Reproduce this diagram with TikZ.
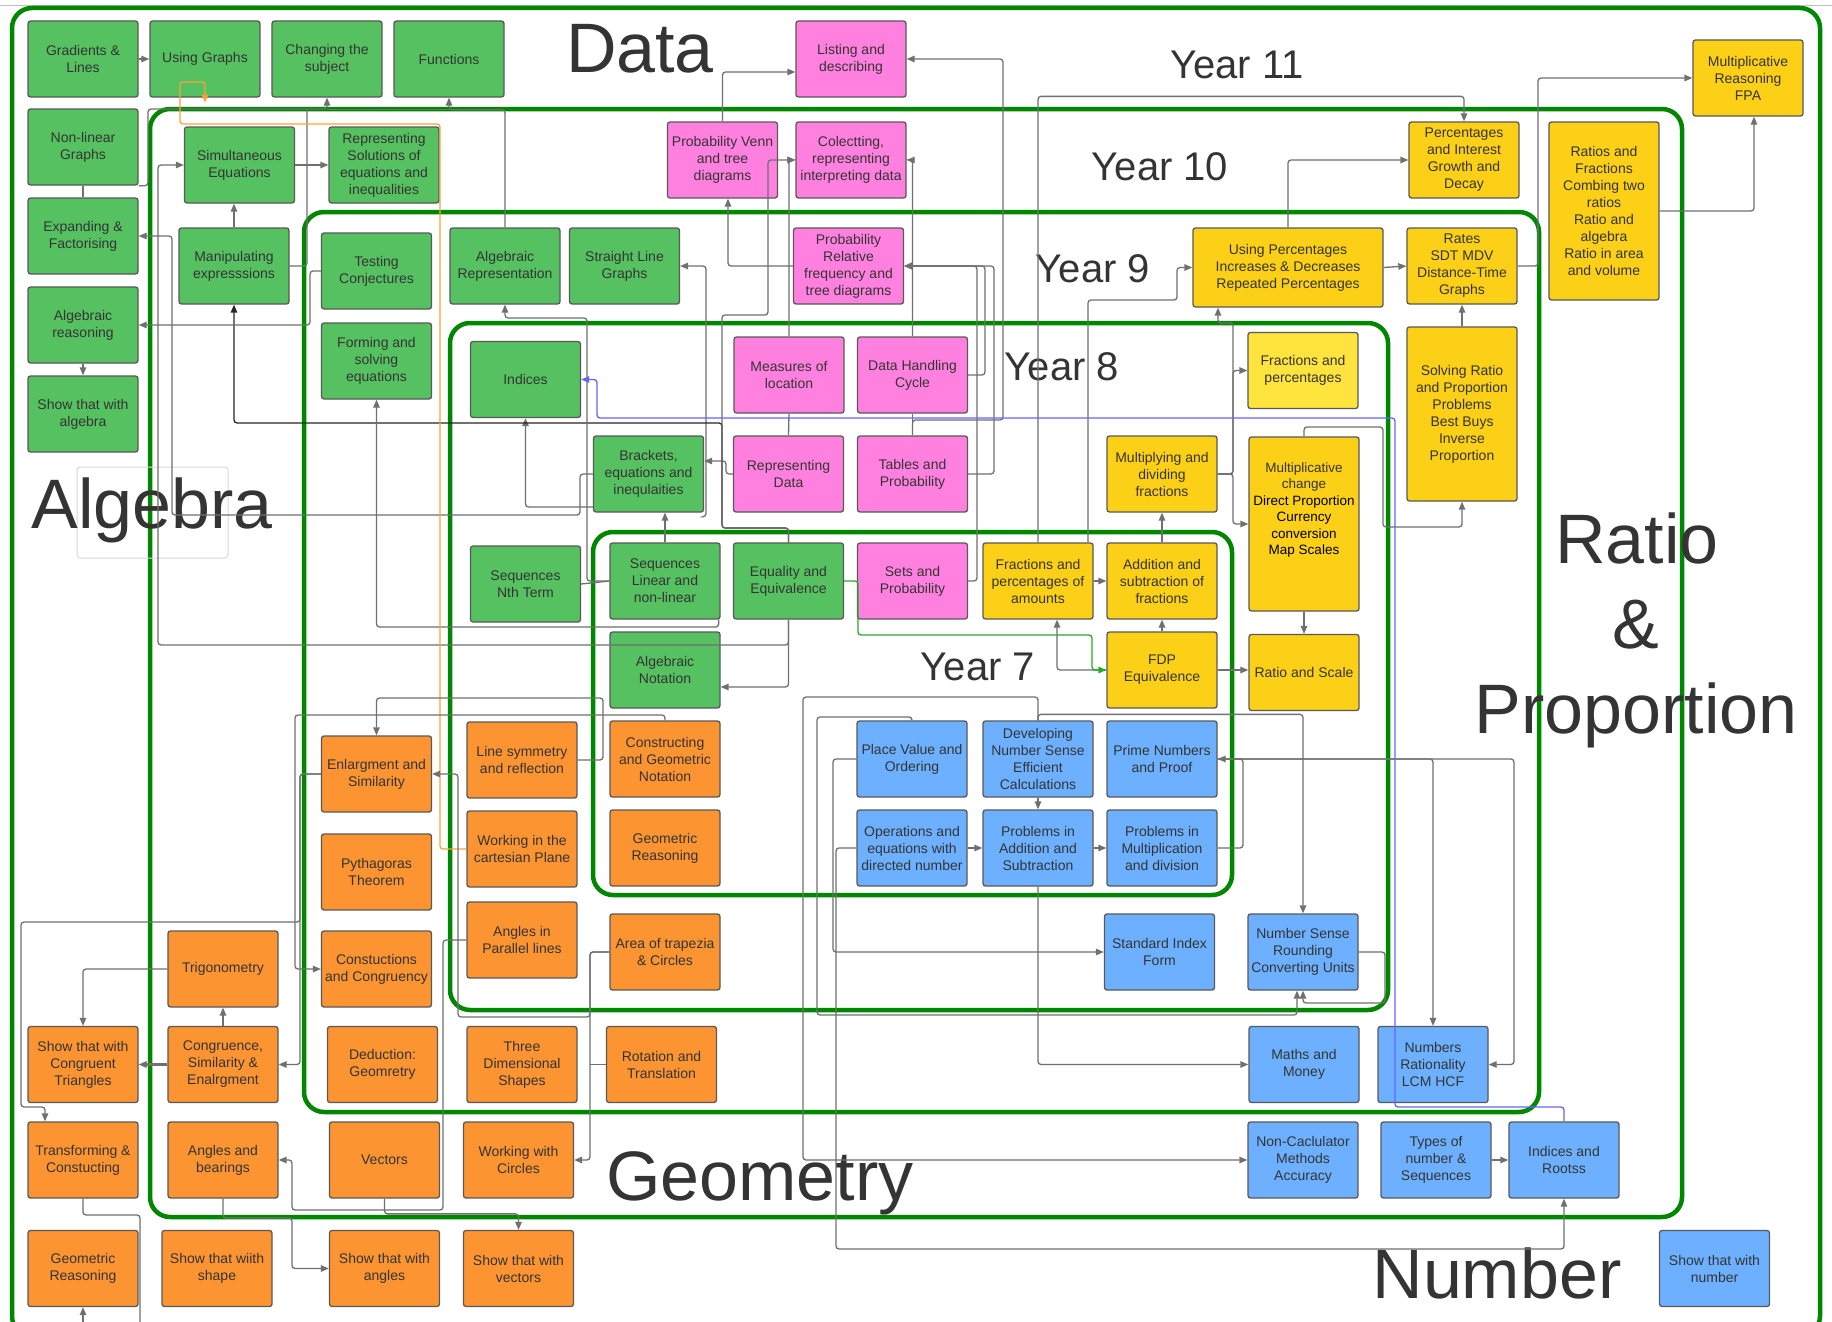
\documentclass[tikz,border=0pt]{standalone}
\usepackage{fontspec}
\setmainfont{Liberation Sans}
\usetikzlibrary{arrows.meta}
\definecolor{algc}{RGB}{86,193,96}
\definecolor{datc}{RGB}{255,128,222}
\definecolor{ratc}{RGB}{252,208,22}
\definecolor{ratl}{RGB}{255,228,62}
\definecolor{geoc}{RGB}{252,148,50}
\definecolor{numc}{RGB}{108,176,255}
\definecolor{yearc}{RGB}{0,135,0}
\definecolor{txtc}{RGB}{52,52,52}
\definecolor{linec}{RGB}{112,112,112}
\definecolor{orangel}{RGB}{255,160,60}
\definecolor{bluel}{RGB}{100,100,255}
\definecolor{greenl}{RGB}{40,170,40}
\begin{document}
\begin{tikzpicture}[x=1pt,y=-1pt,
  topic/.style={draw=black!65,line width=1.3pt,rounded corners=2.5pt,minimum width=110pt,minimum height=76pt,inner sep=1pt,align=center,text=txtc,font=\fontsize{14}{17}\selectfont},
  alg/.style={topic,fill=algc},
  dat/.style={topic,fill=datc},
  rat/.style={topic,fill=ratc},
  geo/.style={topic,fill=geoc},
  num/.style={topic,fill=numc},
  yearbox/.style={draw=yearc,line width=4.5pt,rounded corners=20pt},
  conn/.style={draw=linec,line width=1.3pt,rounded corners=3pt},
  arr/.style={conn,-{Triangle[length=8pt,width=6.5pt]}},
  big/.style={text=txtc,font=\fontsize{70}{84}\selectfont,anchor=base},
  yr/.style={text=txtc,font=\fontsize{40}{48}\selectfont,anchor=base}]
  \useasboundingbox (0,0) rectangle (1832,1322);
  \fill[white] (0,0) rectangle (1832,1322);
  \draw[black!25,line width=1pt] (0,6) -- (1832,6);

  % year frames
  \draw[yearbox] (12,8) rectangle (1820,1336);
  \draw[yearbox] (150,109) rectangle (1682,1217);
  \draw[yearbox] (304,212) rectangle (1539,1112);
  \draw[yearbox] (450,323) rectangle (1388,1010);
  \draw[yearbox] (593,532) rectangle (1232,895);

  \draw[draw=black!15,line width=1pt,rounded corners=3pt] (77,467) rectangle (228,558);
  \node[big] (datalbl) at (640,73) {Data};
  \node[big] (alglbl) at (152,528) {Algebra};
  \node[big] (geolbl) at (760,1200) {Geometry};
  \node[big] (numlbl) at (1497,1298) {Number};
  \node[big] (ratlbl) at (1637,563) {Ratio};
  \node[big] (amplbl) at (1636,648) {\&};
  \node[big] (prolbl) at (1636,733) {Proportion};
  \node[yr] (y11) at (1237,78) {Year 11};
  \node[yr] (y10) at (1160,180) {Year 10};
  \node[yr] (y9) at (1093,282) {Year 9};
  \node[yr] (y8) at (1062,380) {Year 8};
  \node[yr] (y7) at (978,680) {Year 7};

  % algebra
  \node[alg] (gl) at (83,59) {Gradients \&\\Lines};
  \node[alg] (ug) at (205,59) {Using Graphs};
  \node[alg] (cts) at (327,59) {Changing the\\subject};
  \node[alg] (fun) at (449,59) {Functions};
  \node[alg] (nlg) at (83,147) {Non-linear\\Graphs};
  \node[alg] (ef) at (83,236) {Expanding \&\\Factorising};
  \node[alg] (ar) at (83,325) {Algebraic\\reasoning};
  \node[alg] (swa) at (83,414) {Show that with\\algebra};
  \node[alg] (se) at (239.5,165) {Simultaneous\\Equations};
  \node[alg] (rs) at (384,165) {Representing\\Solutions of\\equations and\\inequalities};
  \node[alg] (me) at (234,266) {Manipulating\\expresssions};
  \node[alg] (tc) at (376.5,271) {Testing\\Conjectures};
  \node[alg] (fse) at (376.5,361) {Forming and\\solving\\equations};
  \node[alg] (arep) at (505,266) {Algebraic\\Representation};
  \node[alg] (slg) at (624.5,266) {Straight Line\\Graphs};
  \node[alg] (ind) at (525.5,379.5) {Indices};
  \node[alg] (br) at (648.5,474) {Brackets,\\equations and\\inequlaities};
  \node[alg] (snt) at (525.5,584) {Sequences\\Nth Term};
  \node[alg] (sln) at (665,581) {Sequences\\Linear and\\non-linear};
  \node[alg] (ee) at (788.5,581) {Equality and\\Equivalence};
  \node[alg] (an) at (665,670) {Algebraic\\Notation};

  % data
  \node[dat] (ld) at (851,59) {Listing and\\describing};
  \node[dat] (pvt) at (722.5,160) {Probability Venn\\and tree\\diagrams};
  \node[dat] (crid) at (851,160) {Colectting,\\representing\\interpreting data};
  \node[dat] (prf) at (848.5,266) {Probability\\Relative\\frequency and\\tree diagrams};
  \node[dat] (mol) at (789,375) {Measures of\\location};
  \node[dat] (dhc) at (912.5,375) {Data Handling\\Cycle};
  \node[dat] (rd) at (788.5,474) {Representing\\Data};
  \node[dat] (tp) at (912.5,474) {Tables and\\Probability};
  \node[dat] (sp) at (912.5,581) {Sets and\\Probability};

  % ratio and proportion
  \node[rat] (mr) at (1748,78) {Multiplicative\\Reasoning\\FPA};
  \node[rat] (pi) at (1464,160) {Percentages\\and Interest\\Growth and\\Decay};
  \node[rat,minimum height=178pt] (rf) at (1604,211) {Ratios and\\Fractions\\Combing two\\ratios\\Ratio and\\algebra\\Ratio in area\\and volume};
  \node[rat,minimum width=190pt,minimum height=79pt] (up) at (1288,267.5) {Using Percentages\\Increases \& Decreases\\Repeated Percentages};
  \node[rat] (rates) at (1462,266) {Rates\\SDT MDV\\Distance-Time\\Graphs};
  \node[rat,minimum height=174pt] (srp) at (1462,414) {Solving Ratio\\and Proportion\\Problems\\Best Buys\\Inverse\\Proportion};
  \node[rat,fill=ratl] (fap) at (1303,370.5) {Fractions and\\percentages};
  \node[rat] (mdf) at (1162,474) {Multiplying and\\dividing\\fractions};
  \node[rat,minimum height=174pt,font=\fontsize{13.5}{16.5}\selectfont] (mc) at (1304,524) {Multiplicative\\change\\\textcolor{black}{Direct Proportion}\\\textcolor{black}{Currency}\\\textcolor{black}{conversion}\\\textcolor{black}{Map Scales}\\[14pt]};
  \node[rat] (fpa) at (1038,581) {Fractions and\\percentages of\\amounts};
  \node[rat] (asf) at (1162,581) {Addition and\\subtraction of\\fractions};
  \node[rat] (fdp) at (1162,670) {FDP\\Equivalence};
  \node[rat] (rsc) at (1304,672.5) {Ratio and Scale};

  % number
  \node[num] (pvo) at (912,759) {Place Value and\\Ordering};
  \node[num] (dns) at (1038,759) {Developing\\Number Sense\\Efficient\\Calculations};
  \node[num] (pnp) at (1162,759) {Prime Numbers\\and Proof};
  \node[num] (oed) at (912,848) {Operations and\\equations with\\directed number};
  \node[num] (pas) at (1038,848) {Problems in\\Addition and\\Subtraction};
  \node[num] (pmd) at (1162,848) {Problems in\\Multiplication\\and division};
  \node[num] (sif) at (1159.5,952) {Standard Index\\Form};
  \node[num] (nsr) at (1303,952) {Number Sense\\Rounding\\Converting Units};
  \node[num] (mm) at (1304,1064.5) {Maths and\\Money};
  \node[num] (nrl) at (1433,1064.5) {Numbers\\Rationality\\LCM HCF};
  \node[num] (nc) at (1303,1160) {Non-Caclulator\\Methods\\Accuracy};
  \node[num] (tns) at (1436,1160) {Types of\\number \&\\Sequences};
  \node[num] (irt) at (1564,1160) {Indices and\\Rootss};
  \node[num] (swn) at (1714.5,1268.5) {Show that with\\number};

  % geometry
  \node[geo] (es) at (376.5,774) {Enlargment and\\Similarity};
  \node[geo] (pyt) at (376.5,872) {Pythagoras\\Theorem};
  \node[geo] (trig) at (223,969) {Trigonometry};
  \node[geo] (cc) at (376.5,969) {Constuctions\\and Congruency};
  \node[geo] (swct) at (83,1064.5) {Show that with\\Congruent\\Triangles};
  \node[geo] (cse) at (223,1064.5) {Congruence,\\Similarity \&\\Enalrgment};
  \node[geo] (dg) at (382.5,1064.5) {Deduction:\\Geomretry};
  \node[geo] (tcn) at (83,1160) {Transforming \&\\Constucting};
  \node[geo] (ab) at (223,1160) {Angles and\\bearings};
  \node[geo] (vec) at (384.5,1160) {Vectors};
  \node[geo] (gr2) at (83,1268.5) {Geometric\\Reasoning};
  \node[geo] (sws) at (217,1268.5) {Show that wiith\\shape};
  \node[geo] (swan) at (384.5,1268.5) {Show that with\\angles};
  \node[geo] (lsr) at (522,760) {Line symmetry\\and reflection};
  \node[geo] (cgn) at (665,759) {Constructing\\and Geometric\\Notation};
  \node[geo] (wcp) at (522,849) {Working in the\\cartesian Plane};
  \node[geo] (gr1) at (665,848) {Geometric\\Reasoning};
  \node[geo] (apl) at (522,940) {Angles in\\Parallel lines};
  \node[geo] (atc) at (665,952) {Area of trapezia\\\& Circles};
  \node[geo] (tds) at (522,1064.5) {Three\\Dimensional\\Shapes};
  \node[geo] (rt) at (661.5,1064.5) {Rotation and\\Translation};
  \node[geo] (wwc) at (518.5,1160) {Working with\\Circles};
  \node[geo] (swv) at (518.5,1268.5) {Show that with\\vectors};

  \coordinate (offa) at (140,1322);
  \coordinate (offb) at (83,1322);

  % algebra links
  \draw[arr] (gl.east) -- (ug.west);
  \draw[conn] (nlg.south) -- (ef.north);
  \draw[arr] (nlg.south east) -| (148,109) -| (cts.south);
  \draw[conn] (me.east) -| (307,109);
  \draw[arr] (arep.north) |- ([yshift=-12pt]fun.south) -- (fun.south);
  \draw[conn] ([yshift=-12pt]fun.south) -- ([yshift=-12pt]cts.south);
  \draw[arr] (se.east) -- (rs.west);
  \draw[arr] (me.north) -- (me.north |- se.south);
  \draw[arr] (ee.south) |- ([yshift=-17pt]an.east);
  \draw[arr] (ee.south) |- (158,645) |- (se.west);
  \draw[arr] (br.west) -| (580,515) -| (172,236) -- (ef.east);
  \draw[arr] ([yshift=-33pt]br.west) -| (ind.south);
  \draw[arr] (sln.north) -- (sln.north |- br.south);
  \draw[arr] ([yshift=-4pt]br.south east) -| (706,266) -- (slg.east);
  \draw[arr] (rd.west) -| (726,461) -- ([yshift=13pt]br.east);
  \draw[arr,draw=black!85] (ee.north) |- (722,528) -- (722,423) -| (me.south);
  \draw[arr] (tc.west) -| (310,325) -- (ar.east);
  \draw[arr] (ar.south) -- (swa.north);
  \draw[arr] ([xshift=-2pt]sln.south east) |- (376.5,627) -- (fse.south);
  \draw[conn] (sln.west) -- (snt.east);
  \draw[arr] (sln.west) -| (587,318) -| (arep.south);

  % data links
  \draw[arr] (ee.north) |- (722,528) |- (768,315) |- (crid.west);
  \draw[arr] (mol.north) |- (crid.west);
  \draw[arr] (pvt.north) |- ([yshift=-13pt]ld.west);
  \draw[arr] (prf.west) -| ([xshift=5.5pt]pvt.south);
  \draw[arr] (sp.east) -| (977,266) -- (prf.east);
  \draw[arr] (tp.east) -| (994,266) -- (prf.east);
  \draw[arr] (dhc.east) -| (985,266) -- (prf.east);
  \draw[arr] (tp.north) |- (1003,420) |- (ld.east);
  \draw[arr] (dhc.north) |- (crid.east);
  \draw[conn] (mol.south) -- (rd.north);
  \draw[conn] (dhc.south) -- (tp.north);

  % ratio links
  \draw[arr] (fpa.north) |- ([yshift=25pt]pi.north) -- (pi.north);
  \draw[arr] ([xshift=50pt]fpa.north) |- (1177,300) |- (up.west);
  \draw[arr] (mdf.east) -| (1233,323) -| ([xshift=-70pt]up.south);
  \draw[arr] (mdf.east) -| (1233,370.5) -- (fap.west);
  \draw[arr] (mdf.east) -| (1233,524) -- (mc.west);
  \draw[arr] (up.north) |- (pi.west);
  \draw[arr] (up.east) -- (rates.west);
  \draw[arr] (rates.east) -| (1538,78) -- (mr.west);
  \draw[arr] (rf.east) -| ([xshift=6pt]mr.south);
  \draw[arr] (srp.north) -- (rates.south);
  \draw[arr] (mc.north) |- (1383,427) |- (1462,527) -- (srp.south);
  \draw[arr] (fpa.east) -- (asf.west);
  \draw[arr] (asf.north) -- (mdf.south);
  \draw[arr] (fdp.north) -- (asf.south);
  \draw[arr] (fdp.west) -| ([xshift=19pt]fpa.south);
  \draw[arr,draw=greenl] (ee.east) -| (858,635) -| (1092,670) -- (fdp.west);
  \draw[arr] (mc.south) -- (rsc.north);
  \draw[arr] (fdp.east) -- (fdp.east -| rsc.west);

  % number links
  \draw[arr] (dns.north) |- (803,697) |- (nc.west);
  \draw[arr] (dns.north) -- ++(0,-6) -| (nsr.north);
  \draw[arr] (dns.south) -- (pas.north);
  \draw[arr] (pas.south) |- (mm.west);
  \draw[arr] (oed.east) -- (pas.west);
  \draw[arr] (pas.east) -- (pmd.west);
  \draw[arr] (pmd.east) -| (1243,759) -- (pnp.east);
  \draw[arr] (pnp.east) -| (nrl.north);
  \draw[arr] (pnp.east) -| (1514,1064.5) -- (nrl.east);
  \draw[arr] (nsr.east) -| (1385,1003) -| (nsr.south);
  \draw[arr] (pvo.north) |- (817,717) |- (1297,1015) -- ([xshift=-6pt]nsr.south);
  \draw[arr] (pvo.west) -| (833,952) -- (sif.west);
  \draw[arr] (oed.west) -| (836,1249) -| (irt.south);
  \draw[arr] (tns.east) -- (irt.west);
  \draw[arr,draw=bluel] (irt.north) |- (1395,1107) |- (597,418) |- (ind.east);

  % geometry links
  \draw[arr,draw=orangel] (wcp.west) -| (440,124) -| (180,82) -| ([yshift=-5pt]ug.south);
  \draw[arr] (lsr.east) -| (603,698) -| (es.north);
  \draw[arr] (cgn.north) |- (295,715) |- (cc.west);
  \draw[arr] (es.west) -| (300,922) -| (21,1107) -| ([xshift=-38pt]tcn.north);
  \draw[arr] (es.west) -| (300,1064.5) -- (cse.east);
  \draw[arr] (trig.west) -| (swct.north);
  \draw[arr] (cse.north) -- (trig.south);
  \draw[arr,line width=2.2pt] (cse.west) -- (swct.east);
  \draw[arr] (apl.west) -| (443,1210) -| (292,1160) -- (ab.east);
  \draw[arr] (ab.south) |- (292,1218) |- (swan.west);
  \draw[arr] (vec.south) |- ([yshift=16pt]swv.north) -- (swv.north);
  \draw[arr] (atc.west) -| (590,1160) -- (wwc.east);
  \draw[conn] (rt.west) -- (590,1064.5);
  \draw[arr] (atc.west) -| (590,1017) -| (458,774) -- (es.east);
  \draw[conn] (tcn.south) |- (140,1215) -- (offa);
  \draw[arr] (offb) -- (gr2.south);
\end{tikzpicture}
\end{document}
